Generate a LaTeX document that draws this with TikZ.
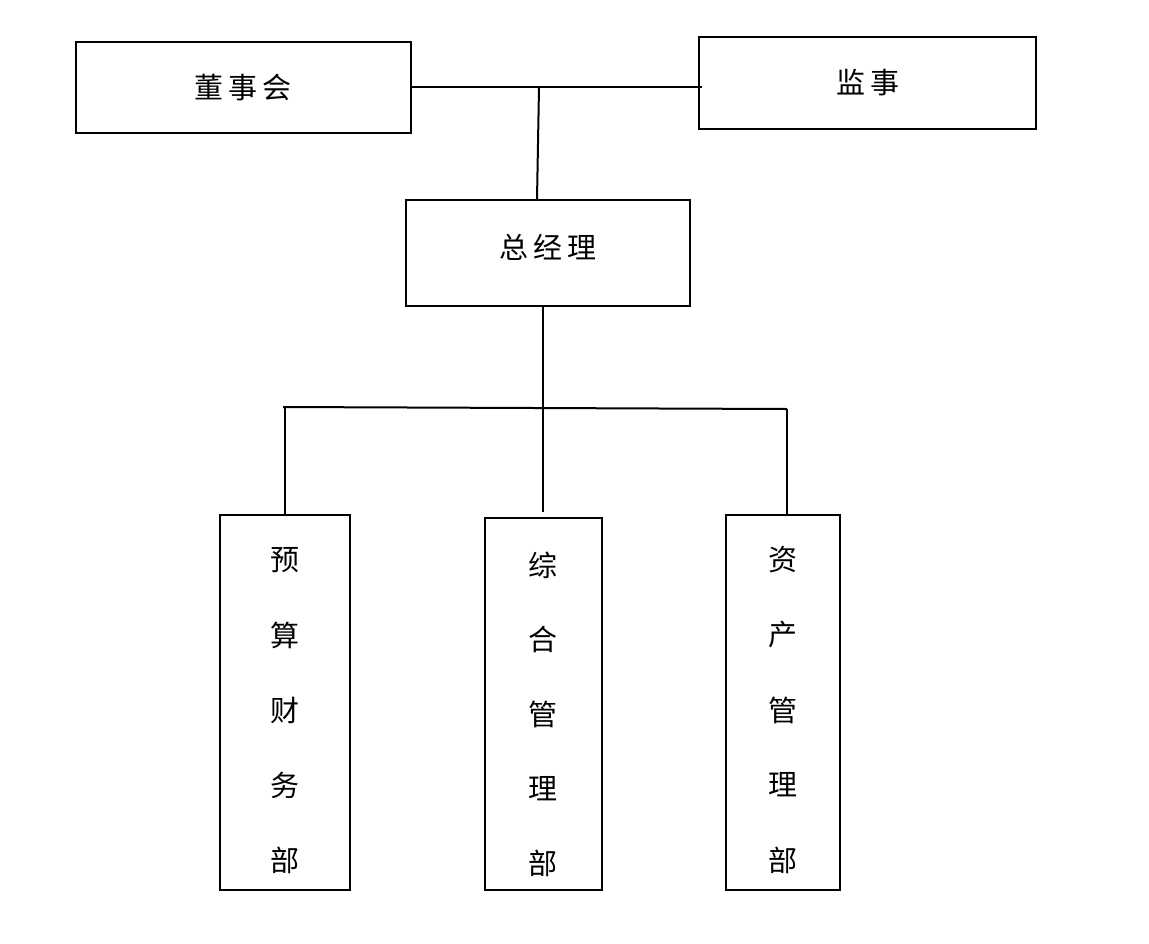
\documentclass[tikz,border=0pt]{standalone}
\usepackage{fontspec}
\newfontfamily\cjk{Noto Sans CJK SC}
\begin{document}
\begin{tikzpicture}[x=1pt,y=-1pt,
  box/.style={draw=black,line width=2pt,rectangle,inner sep=0pt},
  lbl/.style={font=\cjk\fontsize{29}{30}\selectfont,inner sep=0pt},
  conn/.style={draw=black,line width=2pt}]
\useasboundingbox[fill=white] (0,0) rectangle (1149,943);
% boxes
\node[box,minimum width=335pt,minimum height=91pt] (board) at (243.5,87.5) {};
\node[box,minimum width=337pt,minimum height=92pt] (sup) at (867.5,83) {};
\node[box,minimum width=284pt,minimum height=106pt] (gm) at (548,253) {};
\node[box,minimum width=130pt,minimum height=375pt] (d1) at (285,702.5) {};
\node[box,minimum width=117pt,minimum height=372pt] (d2) at (543.5,704) {};
\node[box,minimum width=114pt,minimum height=375pt] (d3) at (783,702.5) {};
% labels
\node[lbl] (tboard) at (243,88) {董\kern5pt 事\kern5pt 会};
\node[lbl] (tsup) at (868,83) {监\kern5pt 事};
\node[lbl] (tgm) at (548,247) {总\kern5pt 经\kern5pt 理};
\foreach \c [count=\i] in {预,算,财,务,部}{
  \node[lbl] (a\i) at (285,{560+75*(\i-1)}) {\c};}
\foreach \c [count=\i] in {综,合,管,理,部}{
  \node[lbl] (b\i) at (543,{565+74.5*(\i-1)}) {\c};}
\foreach \c [count=\i] in {资,产,管,理,部}{
  \node[lbl] (c\i) at (783,{560+75*(\i-1)}) {\c};}
% connector coordinates
\coordinate (topR) at (702,87);
\coordinate (topJ) at (539,87);
\coordinate (gmTop) at (537,200);
\coordinate (gmBot) at (543,306);
\coordinate (busL) at (283,407);
\coordinate (busR) at (787,409);
\coordinate (dropL) at (285,407);
\coordinate (d1Top) at (285,515);
\coordinate (midEnd) at (543,512);
\coordinate (d3Top) at (787,515);
% connectors
\draw[conn] (board.east |- topR) -- (topR);
\draw[conn] (topJ) -- (gmTop);
\draw[conn] (gmBot) -- (midEnd);
\draw[conn] (busL) -- (busR);
\draw[conn] (dropL) -- (d1Top);
\draw[conn] (busR) -- (d3Top);
\end{tikzpicture}
\end{document}
